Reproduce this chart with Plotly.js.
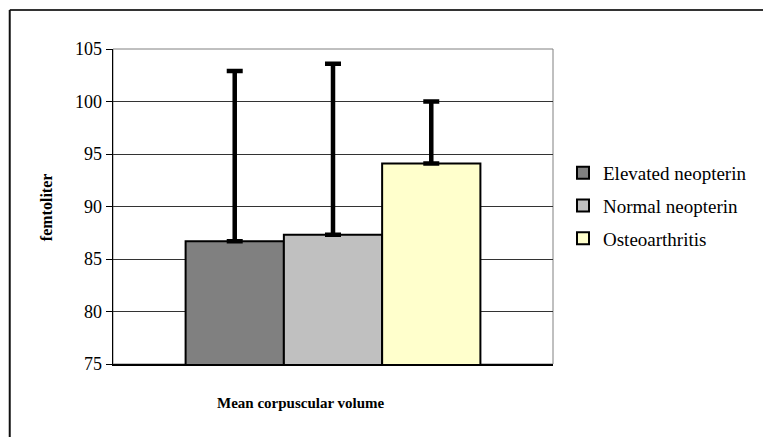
<!DOCTYPE html>
<html>
<head>
<meta charset="utf-8">
<script src="https://cdn.plot.ly/plotly-3.0.1.min.js"></script>
<style>
html,body{margin:0;padding:0;background:#fff;}
#chart{width:763px;height:437px;}
</style>
</head>
<body>
<div id="chart"></div>
<script>
const category = ["Mean corpuscular volume"];
const seriesNames = ["Elevated neopterin", "Normal neopterin", "Osteoarthritis"];
const means = [86.7, 87.3, 94.1];
const errorsUp = [16.2, 16.3, 5.9];
const colors = ["#808080", "#C0C0C0", "#FFFFCC"];
const yTicks = [75, 80, 85, 90, 95, 100, 105];
const xTitle = "Mean corpuscular volume";
const yTitle = "femtoliter";

const font = "Liberation Serif";

const traces = seriesNames.map((name, i) => ({
  type: "bar",
  name: name,
  x: category,
  y: [means[i]],
  legendgroup: "g" + i,
  marker: {color: colors[i], line: {color: "#000", width: 2}},
  error_y: {type: "data", symmetric: false, array: [errorsUp[i]], arrayminus: [0],
            color: "#000", thickness: 4.5, width: 8},
  hoverinfo: "none"
}));

const W = 763, H = 437, L = 113, R = 554, T = 49, B = 364;
const px = v => (v - L) / (R - L);
const py = v => (B - v) / (B - T);

const layout = {
  width: W, height: H,
  margin: {l: L, r: W - R, t: T, b: H - B, pad: 0},
  paper_bgcolor: "#fff", plot_bgcolor: "#fff",
  font: {family: font, color: "#000", size: 16},
  barmode: "group", bargap: 0.33, bargroupgap: 0,
  showlegend: true,
  legend: {x: px(563), y: py(206), xanchor: "left", yanchor: "middle",
           font: {family: font, size: 19, color: "#000"},
           traceorder: "grouped", tracegroupgap: 5,
           bgcolor: "rgba(0,0,0,0)", itemwidth: 30},
  xaxis: {type: "category", showticklabels: false, ticks: "", showgrid: false,
          showline: true, linecolor: "#000", linewidth: 1.5, fixedrange: true},
  yaxis: {range: [75, 105], tickvals: yTicks, ticktext: yTicks.map(String),
          ticks: "outside", ticklen: 6, tickcolor: "#000", tickwidth: 1,
          showgrid: true, gridcolor: "#333", gridwidth: 1,
          showline: true, linecolor: "#000", linewidth: 1.5, zeroline: false,
          tickfont: {family: font, size: 18, color: "#000"}, fixedrange: true},
  shapes: [
    {type: "rect", xref: "paper", yref: "paper", x0: 0, x1: 1, y0: 0, y1: 1,
     line: {color: "#808080", width: 1}, layer: "below"},
    {type: "line", xref: "paper", yref: "paper", x0: px(9.5), x1: px(780), y0: py(10), y1: py(10),
     line: {color: "#333", width: 2}},
    {type: "line", xref: "paper", yref: "paper", x0: px(9.5), x1: px(9.5), y0: py(10), y1: py(450),
     line: {color: "#111", width: 2}}
  ],
  annotations: [
    {text: "<b>" + xTitle + "</b>", xref: "paper", yref: "paper", x: px(301), y: py(403),
     xanchor: "center", yanchor: "middle", showarrow: false,
     font: {family: font, size: 15, color: "#000"}},
    {text: "<b>" + yTitle + "</b>", xref: "paper", yref: "paper", x: px(46), y: py(207),
     xanchor: "center", yanchor: "middle", showarrow: false, textangle: -90,
     font: {family: font, size: 16, color: "#000"}}
  ]
};

Plotly.newPlot("chart", traces, layout, {displayModeBar: false, staticPlot: true});
</script>
</body>
</html>
